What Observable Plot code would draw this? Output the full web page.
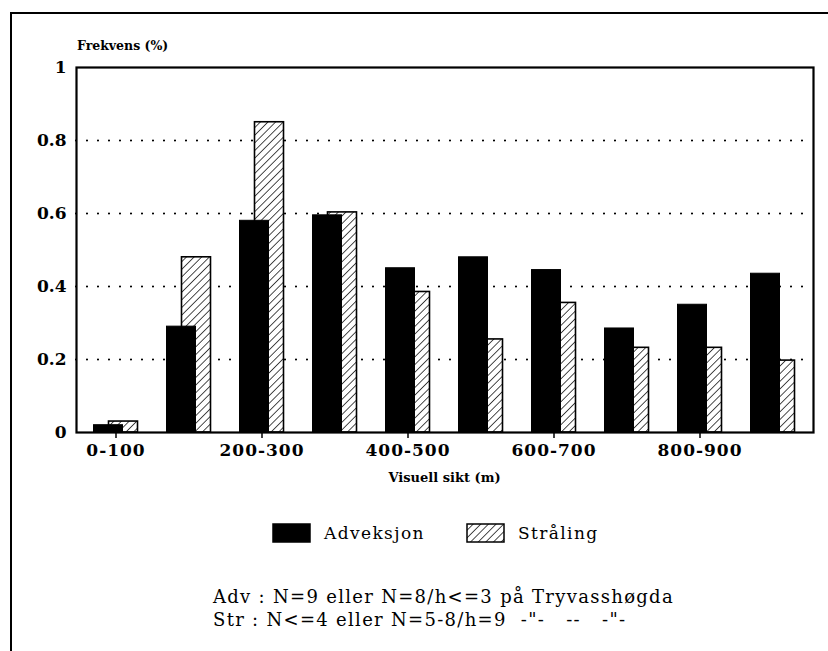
<!DOCTYPE html>
<html>
<head>
<meta charset="utf-8">
<script src="https://cdn.jsdelivr.net/npm/d3@7"></script>
<script src="https://cdn.jsdelivr.net/npm/@observablehq/plot@0.6"></script>
<style>
  body { margin: 0; background: #fff; }
  #page { position: relative; width: 828px; height: 651px; overflow: hidden; font-family: "DejaVu Serif", serif; color: #000; background: #fff; }
  #border { position: absolute; left: 10px; top: 12px; width: 900px; height: 700px; border-top: 2.5px solid #000; border-left: 2.5px solid #000; }
  #chart { position: absolute; left: 0; top: 0; }
  #chart svg g[aria-label="x-axis tick label"] text { letter-spacing: 1px; }
  #ylabel { position: absolute; left: 77px; top: 38px; font-size: 12.5px; font-weight: bold; white-space: nowrap; }
  #xlabel { position: absolute; left: 76px; width: 737px; top: 470px; text-align: center; font-size: 13px; font-weight: bold; }
  #legend { position: absolute; left: 272px; top: 523px; display: flex; align-items: center; font-size: 17px; letter-spacing: 1.4px; }
  #legend .item { display: flex; align-items: center; margin-right: 41px; }
  #legend svg { margin-right: 12px; display: block; }
  #note { position: absolute; left: 213px; top: 585px; font-size: 18px; line-height: 23px; white-space: pre; letter-spacing: 1.3px; }
</style>
</head>
<body>
<div id="page">
  <div id="border"></div>
  <div id="chart"></div>
  <div id="ylabel"></div>
  <div id="xlabel"></div>
  <div id="legend"></div>
  <div id="note"></div>
</div>
<script>
// ---- data ----
const categories = ["0-100", "100-200", "200-300", "300-400", "400-500", "500-600", "600-700", "700-800", "800-900", "900-1000"];
const tickLabels = ["0-100", "200-300", "400-500", "600-700", "800-900"];
const adveksjon = [0.02, 0.29, 0.58, 0.595, 0.45, 0.48, 0.445, 0.285, 0.35, 0.435];
const straling = [0.03, 0.48, 0.85, 0.603, 0.385, 0.255, 0.355, 0.232, 0.232, 0.197];
const seriesNames = ["Adveksjon", "Stråling"];
const yTicks = [0, 0.2, 0.4, 0.6, 0.8, 1];
const gridTicks = [0.2, 0.4, 0.6, 0.8];
const yLabel = "Frekvens (%)";
const xLabel = "Visuell sikt (m)";
const noteLines = [
  "Adv : N=9 eller N=8/h<=3 på Tryvasshøgda",
  "Str : N<=4 eller N=5-8/h=9  -\"-   --   -\"-"
];

const advData = categories.map((c, i) => ({cat: c, serie: seriesNames[0], value: adveksjon[i]}));
const strData = categories.map((c, i) => ({cat: c, serie: seriesNames[1], value: straling[i]}));

const chart = Plot.plot({
  width: 828,
  height: 470,
  marginLeft: 76,
  marginRight: 15,
  marginTop: 67,
  marginBottom: 38,
  style: {fontFamily: "DejaVu Serif, serif", fontSize: "17px", fontWeight: "bold", background: "transparent", color: "#000"},
  x: {domain: categories, paddingInner: 0.6, paddingOuter: 0.3, axis: null},
  y: {domain: [0, 1], axis: null},
  marks: [
    Plot.ruleY(gridTicks, {stroke: "#000", strokeWidth: 2.2, strokeDasharray: "0,11", strokeLinecap: "round"}),
    Plot.barY(strData, {x: "cat", y: "value", dx: 7.5, fill: "url(#hatch)", stroke: "#000", strokeWidth: 1.6}),
    Plot.barY(advData, {x: "cat", y: "value", dx: -7.5, fill: "#000", stroke: "#000", strokeWidth: 1}),
    Plot.axisX(tickLabels, {tickSize: 6, tickPadding: 5, stroke: "#000", strokeWidth: 1.5, label: null, fontSize: 17, fontWeight: "bold"}),
    Plot.axisY(yTicks, {tickSize: 0, tickPadding: 10, label: null, tickFormat: d => (d === 0 || d === 1) ? String(d) : d.toFixed(1), fontSize: 17, fontWeight: "bold"}),
    Plot.frame({stroke: "#000", strokeWidth: 2.2})
  ]
});

// hatch pattern
const defs = d3.select(chart).insert("defs", ":first-child");
const pat = defs.append("pattern")
  .attr("id", "hatch")
  .attr("patternUnits", "userSpaceOnUse")
  .attr("width", 5.4)
  .attr("height", 10)
  .attr("patternTransform", "rotate(45)");
pat.append("rect").attr("width", 5.4).attr("height", 10).attr("fill", "#fff");
pat.append("line").attr("x1", 0).attr("y1", 0).attr("x2", 0).attr("y2", 10)
  .attr("stroke", "#000").attr("stroke-width", 1.4);

document.getElementById("chart").appendChild(chart);
document.getElementById("ylabel").textContent = yLabel;
document.getElementById("xlabel").textContent = xLabel;

// legend
const legend = d3.select("#legend");
seriesNames.forEach((name, i) => {
  const item = legend.append("div").attr("class", "item");
  const s = item.append("svg").attr("width", 40).attr("height", 20);
  s.append("rect").attr("x", 1).attr("y", 1).attr("width", 37).attr("height", 18)
    .attr("fill", i === 0 ? "#000" : "url(#hatch)")
    .attr("stroke", "#000").attr("stroke-width", 1.5);
  item.append("span").text(name);
});

document.getElementById("note").textContent = noteLines.join("\n");
</script>
</body>
</html>
